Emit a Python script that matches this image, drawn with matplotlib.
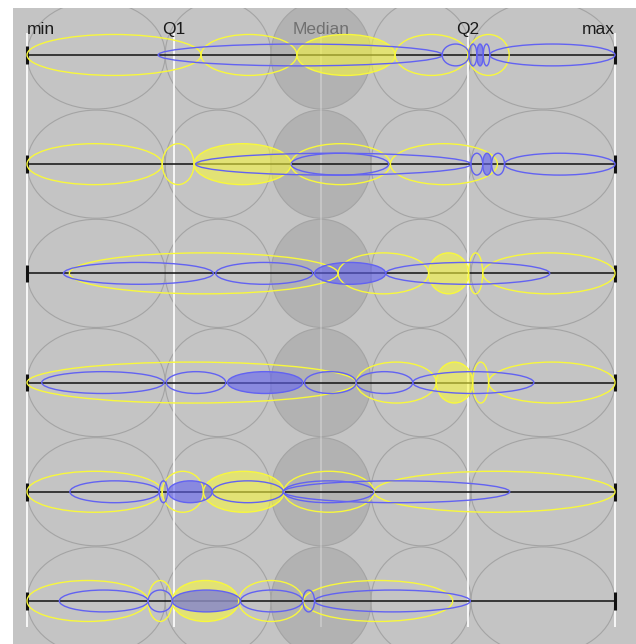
import matplotlib.pyplot as plt
from matplotlib.patches import Ellipse

# quartile markers (x in percent of the range)
quart_labels = ['min', 'Q1', 'Median', 'Q2', 'max']
quart_pos = [0, 25, 50, 75, 100]

# grey background circles, column borders
bin_edges = [0, 23.5, 41.5, 58.5, 75.5, 100]

row_y = [0, 1, 2, 3, 4, 5]

# yellow ellipses per row (start, end); third one is filled
yellow_spans = [
    [(0, 29.6), (29.6, 45.9), (45.9, 62.6), (62.6, 75.0), (75.0, 82.0)],
    [(0, 23.0), (23.0, 28.4), (28.4, 44.9), (44.9, 61.8), (61.8, 80.0)],
    [(7.2, 52.9), (52.9, 68.3), (68.3, 75.1), (75.1, 77.5), (77.5, 100)],
    [(0, 56.0), (56.0, 69.6), (69.6, 75.8), (75.8, 78.5), (78.5, 100)],
    [(0, 23.0), (23.0, 30.0), (30.0, 43.7), (43.7, 59.0), (59.0, 100)],
    [(0, 20.6), (20.6, 24.7), (24.7, 36.0), (36.0, 47.0), (47.0, 72.4)],
]
yellow_filled = [2, 2, 2, 2, 2, 2]

# blue ellipses per row
blue_spans = [
    [(22.3, 70.7), (70.6, 75.2), (75.2, 76.5), (76.5, 77.6), (77.6, 78.7), (78.7, 100)],
    [(28.7, 75.5), (44.9, 61.5), (75.5, 77.5), (77.5, 79.0), (79.0, 81.2), (81.2, 100)],
    [(6.2, 31.7), (32.1, 48.6), (48.9, 61.0), (61.0, 88.9)],
    [(2.5, 23.3), (23.7, 33.8), (34.1, 46.9), (47.2, 56.0), (56.0, 65.6), (65.6, 86.2)],
    [(7.3, 22.5), (22.5, 23.9), (24.0, 31.5), (31.5, 43.6), (43.6, 59.0), (43.6, 82.1)],
    [(5.5, 20.6), (20.6, 24.7), (24.7, 36.3), (36.3, 46.9), (46.9, 48.9), (48.9, 75.4)],
]
blue_filled = [3, 3, 2, 2, 2, 2]

bg = '#c4c4c4'
yel = '#f8f83c'
blu = '#6262f2'

fig = plt.figure(figsize=(6.36, 6.44), dpi=100)
ax = fig.add_axes([13 / 636, 0, 623 / 636, 636 / 644])
ax.set_facecolor(bg)
ax.set_xlim(-2.38, 103.57)
ax.set_ylim(5.394, -0.430)
ax.axis('off')
ax.add_patch(plt.Rectangle((-2.38, -0.43), 105.95, 5.824, color=bg, zorder=0))

# grey circles
for y in row_y:
    for i in range(len(bin_edges) - 1):
        a, b = bin_edges[i], bin_edges[i + 1]
        fc = '#b2b2b2' if i == 2 else 'none'
        ax.add_patch(Ellipse(((a + b) / 2, y), b - a, 0.99, fc=fc,
                             ec='#a4a4a4', lw=0.8, zorder=1))

# quartile lines + labels
for lab, p in zip(quart_labels, quart_pos):
    if lab == 'Median':
        ax.vlines(p, -0.2, 5.24, color='white', alpha=0.3, lw=1.2, zorder=2)
        col = '#707070'
    else:
        ax.vlines(p, -0.2, 5.24, color='white', lw=1.2, zorder=2)
        col = '#1a1a1a'
    ha = {'min': 'left', 'max': 'right'}.get(lab, 'center')
    ax.text(p, -0.19, lab, ha=ha, va='baseline', fontsize=12.5,
            family='Liberation Sans', color=col, zorder=6)

# row axis lines
for y in row_y:
    ax.hlines(y, 0, 100, color='#111111', lw=1.1, zorder=3)
    ax.vlines([0, 100], y - 0.08, y + 0.08, color='#111111', lw=2.2, zorder=3)

# yellow and blue ellipses
for r, y in enumerate(row_y):
    for k, (a, b) in enumerate(yellow_spans[r]):
        if k == yellow_filled[r]:
            ax.add_patch(Ellipse(((a + b) / 2, y), b - a, 0.375, fc=yel,
                                 alpha=0.58, ec='none', zorder=4))
        ax.add_patch(Ellipse(((a + b) / 2, y), b - a, 0.375, fc='none',
                             ec=yel, lw=1.0, zorder=5))
    for k, (a, b) in enumerate(blue_spans[r]):
        if k == blue_filled[r]:
            ax.add_patch(Ellipse(((a + b) / 2, y), b - a, 0.2, fc=blu,
                                 alpha=0.6, ec='none', zorder=4))
        ax.add_patch(Ellipse(((a + b) / 2, y), b - a, 0.2, fc='none',
                             ec=blu, lw=1.0, zorder=5))

fig.savefig('out.png', dpi=100, facecolor='white')
